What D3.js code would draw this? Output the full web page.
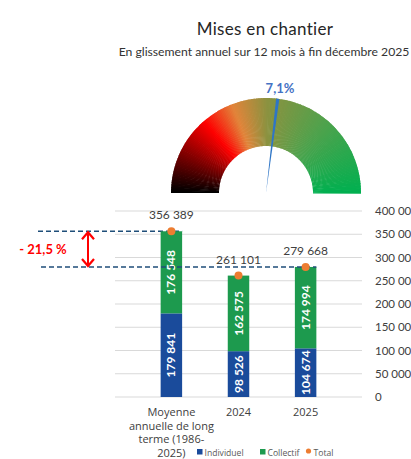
<!DOCTYPE html>
<html>
<head>
<meta charset="utf-8">
<script src="https://cdn.jsdelivr.net/npm/d3@7/dist/d3.min.js"></script>
<style>
  body { margin: 0; background: #fff; }
  svg { font-family: Lato, "Open Sans", sans-serif; }
</style>
</head>
<body>
<div id="chart"></div>
<script>
// data
var categories = ["Moyenne annuelle de long terme (1986-2025)", "2024", "2025"];
var categoryLines = [["Moyenne", "annuelle de long", "terme (1986-", "2025)"], ["2024"], ["2025"]];
var individuel = [179841, 98526, 104674];
var collectif = [176548, 162575, 174994];
var totals = [356389, 261101, 279668];
var yTicks = [0, 50000, 100000, 150000, 200000, 250000, 300000, 350000, 400000];
var gaugeValue = 7.1;
var gaugeRange = [-90, 90];
var ecart = "- 21,5 %";

var width = 411, height = 459;
var fr = d3.formatLocale({decimal: ",", thousands: "\u00a0", grouping: [3], currency: ["", ""]});
var fmt = fr.format(",d");

var svg = d3.select("#chart").append("svg")
    .attr("width", width)
    .attr("height", height);

// titles
svg.append("text")
    .attr("x", 265).attr("y", 35)
    .attr("text-anchor", "middle")
    .style("font-size", "17px")
    .style("letter-spacing", "0.3px")
    .style("fill", "#262626")
    .text("Mises en chantier");
svg.append("text")
    .attr("x", 264).attr("y", 56)
    .attr("text-anchor", "middle")
    .style("font-size", "12.2px")
    .style("fill", "#333")
    .text("En glissement annuel sur 12 mois à fin décembre 2025");

// gauge
var cx = 266, cy = 193, rOut = 95, rIn = 47;
var gauge = svg.append("g").attr("transform", "translate(" + cx + "," + cy + ")");
var colorStops = d3.scaleLinear()
    .domain([0, 0.15, 0.27, 0.38, 0.5, 0.72, 1])
    .range(["#000000", "#8a0000", "#ff0000", "#e2843a", "#8c9240", "#4fa24c", "#00b050"])
    .interpolate(d3.interpolateRgb);
var nSeg = 180;
var arc = d3.arc().innerRadius(rIn).outerRadius(rOut);
gauge.selectAll("path.seg")
    .data(d3.range(nSeg))
    .enter().append("path")
    .attr("class", "seg")
    .attr("d", function (i) {
        return arc({
            startAngle: -Math.PI / 2 + i * Math.PI / nSeg,
            endAngle: -Math.PI / 2 + (i + 1.5) * Math.PI / nSeg
        });
    })
    .style("fill", function (i) { return colorStops(i / nSeg); });

var angle = d3.scaleLinear().domain(gaugeRange).range([-Math.PI / 2, Math.PI / 2]);
var a = angle(gaugeValue);
var tip = [Math.sin(a) * rOut, -Math.cos(a) * rOut];
var px = Math.cos(a) * 1.6, py = Math.sin(a) * 1.6;
gauge.append("path")
    .attr("d", "M0,0 L" + (tip[0] - px) + "," + (tip[1] - py) +
        " L" + (tip[0] + px) + "," + (tip[1] + py) + " Z")
    .style("fill", "#2e75c6");
svg.append("text")
    .attr("x", 280).attr("y", 93)
    .attr("text-anchor", "middle")
    .style("font-size", "13px")
    .style("font-weight", "bold")
    .style("fill", "#4472c4")
    .text(fr.format(".1f")(gaugeValue) + "%");

// bar chart
var plotLeft = 115, plotRight = 362;
var x = d3.scaleBand().domain(categories).range([plotLeft, plotRight]).padding(0.68);
var y = d3.scaleLinear().domain([0, 400000]).range([397, 211]);

svg.append("g").selectAll("line")
    .data(yTicks)
    .enter().append("line")
    .attr("x1", plotLeft).attr("x2", plotRight)
    .attr("y1", function (d) { return y(d); })
    .attr("y2", function (d) { return y(d); })
    .style("stroke", "#d9d9d9")
    .style("stroke-width", "1px");

var yAxis = svg.append("g")
    .attr("transform", "translate(" + plotRight + ",0)")
    .call(d3.axisRight(y).tickValues(yTicks).tickSize(0).tickPadding(13)
        .tickFormat(function (d) { return fmt(d); }));
yAxis.select(".domain").remove();
yAxis.selectAll("text").style("font-size", "11.5px").style("fill", "#404040")
    .style("font-family", "Lato, sans-serif");

// dashed reference lines
svg.append("line")
    .attr("x1", 38).attr("x2", x(categories[0]) + x.bandwidth())
    .attr("y1", y(totals[0])).attr("y2", y(totals[0]))
    .style("stroke", "#1f4e79").style("stroke-width", 1.5).style("stroke-dasharray", "5,3");

var series = [
    {name: "Individuel", values: individuel, color: "#1a4b9b"},
    {name: "Collectif", values: collectif, color: "#1d9a4e"}
];
series.forEach(function (s, si) {
    svg.append("g").selectAll("rect")
        .data(categories)
        .enter().append("rect")
        .attr("x", function (c) { return x(c); })
        .attr("width", x.bandwidth())
        .attr("y", function (c, i) {
            var base = si === 0 ? 0 : individuel[i];
            return y(base + s.values[i]);
        })
        .attr("height", function (c, i) { return y(0) - y(s.values[i]); })
        .style("fill", s.color);
    svg.append("g").selectAll("text")
        .data(categories)
        .enter().append("text")
        .attr("transform", function (c, i) {
            var base = si === 0 ? 0 : individuel[i];
            var ym = y(base + s.values[i] / 2);
            return "translate(" + (x(c) + x.bandwidth() / 2 + 4) + "," + ym + ") rotate(-90)";
        })
        .attr("text-anchor", "middle")
        .style("font-size", "12px")
        .style("font-weight", "bold")
        .style("fill", "#fff")
        .text(function (c, i) { return fmt(s.values[i]); });
});

svg.append("line")
    .attr("x1", 41).attr("x2", x(categories[2]) + x.bandwidth())
    .attr("y1", y(totals[2])).attr("y2", y(totals[2]))
    .style("stroke", "#1f4e79").style("stroke-width", 1.5).style("stroke-dasharray", "5,3");

// totals
svg.append("g").selectAll("circle")
    .data(categories)
    .enter().append("circle")
    .attr("cx", function (c) { return x(c) + x.bandwidth() / 2; })
    .attr("cy", function (c, i) { return y(totals[i]); })
    .attr("r", 4)
    .style("fill", "#ed7d31");
svg.append("g").selectAll("text")
    .data(categories)
    .enter().append("text")
    .attr("x", function (c) { return x(c) + x.bandwidth() / 2; })
    .attr("y", function (c, i) { return y(totals[i]) - 12; })
    .attr("text-anchor", "middle")
    .style("font-size", "12px")
    .style("fill", "#404040")
    .text(function (c, i) { return fmt(totals[i]); });

// category labels
categories.forEach(function (c, i) {
    var t = svg.append("text")
        .attr("x", x(c) + x.bandwidth() / 2)
        .attr("y", 416)
        .attr("text-anchor", "middle")
        .style("font-family", "'Open Sans', sans-serif")
        .style("font-size", "11px")
        .style("fill", "#404040");
    categoryLines[i].forEach(function (line, j) {
        t.append("tspan").attr("x", x(c) + x.bandwidth() / 2)
            .attr("dy", j === 0 ? 0 : 13.7).text(line);
    });
});

// arrow
var arrowX = 88, ay1 = y(totals[0]), ay2 = y(totals[2]);
svg.append("line")
    .attr("x1", arrowX).attr("x2", arrowX)
    .attr("y1", ay1 + 2).attr("y2", ay2 - 2)
    .style("stroke", "#ff0000").style("stroke-width", 2);
svg.append("path")
    .attr("d", "M" + (arrowX - 6) + "," + (ay1 + 8) + " L" + arrowX + "," + (ay1 + 1) + " L" + (arrowX + 6) + "," + (ay1 + 8))
    .style("fill", "none").style("stroke", "#ff0000").style("stroke-width", 2.2);
svg.append("path")
    .attr("d", "M" + (arrowX - 6) + "," + (ay2 - 8) + " L" + arrowX + "," + (ay2 - 1) + " L" + (arrowX + 6) + "," + (ay2 - 8))
    .style("fill", "none").style("stroke", "#ff0000").style("stroke-width", 2.2);
svg.append("text")
    .attr("x", 43).attr("y", 254)
    .attr("text-anchor", "middle")
    .style("font-size", "13px")
    .style("font-weight", "bold")
    .style("fill", "#ff0000")
    .text(ecart);

// legend
var legend = svg.append("g").attr("transform", "translate(197,456)");
var legendItems = [
    {name: "Individuel", color: "#1a4b9b", shape: "rect", x: 0},
    {name: "Collectif", color: "#1d9a4e", shape: "rect", x: 63},
    {name: "Total", color: "#ed7d31", shape: "circle", x: 109}
];
legendItems.forEach(function (d) {
    if (d.shape === "rect") {
        legend.append("rect").attr("x", d.x).attr("y", -7).attr("width", 5.5).attr("height", 5.5).style("fill", d.color);
    } else {
        legend.append("circle").attr("cx", d.x + 2.5).attr("cy", -5).attr("r", 2.6).style("fill", d.color);
    }
    legend.append("text").attr("x", d.x + 7.5).attr("y", 0)
        .style("font-family", "'Open Sans', sans-serif")
        .style("font-size", "8.6px").style("fill", "#595959").text(d.name);
});
</script>
</body>
</html>
